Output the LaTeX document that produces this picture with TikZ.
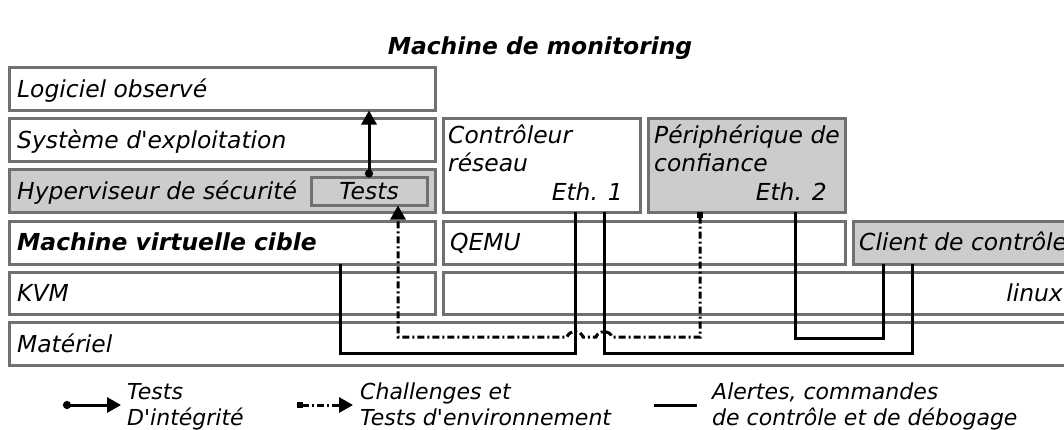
\documentclass[tikz,border=0pt]{standalone}
\usepackage{fontspec}
\setmainfont{DejaVu Sans}
\usetikzlibrary{arrows.meta}
\definecolor{boxline}{HTML}{707070}
\definecolor{boxfill}{HTML}{CCCCCC}
\tikzset{
  layer/.style={draw=boxline, line width=3pt, rectangle, inner sep=0pt, outer sep=0pt, anchor=north west},
  greybox/.style={fill=boxfill},
  txt/.style={font=\fontsize{23.4}{28}\selectfont\itshape, inner sep=0pt, anchor=base west},
  txtb/.style={txt, font=\fontsize{23.4}{28}\selectfont\bfseries\itshape},
  legtxt/.style={font=\fontsize{22}{26}\selectfont\itshape, inner sep=0pt, anchor=base west},
  conn/.style={line width=3pt, black},
  dashdot/.style={dash pattern=on 7pt off 3pt on 2pt off 3pt},
  dotstart/.style={{Circle[length=8pt,width=8pt]}-{Triangle[length=14pt,width=15pt]}},
  sqstart/.style={{Square[length=6pt,width=6pt]}-{Triangle[length=14pt,width=15pt]}},
}
\begin{document}
\begin{tikzpicture}[x=1pt,y=-1pt]
\useasboundingbox (0,0) rectangle (1064,429);
\clip (0,0) rectangle (1064,429);

% title
\node[txtb, anchor=base] (title) at (540,54) {Machine de monitoring};

% left column
\node[layer, minimum width=425.5pt, minimum height=43pt] (log) at (9.5,67.5) {};
\node[layer, minimum width=425.5pt, minimum height=43.5pt] (sys) at (9.5,118) {};
\node[layer, greybox, minimum width=425.5pt, minimum height=43pt] (hyp) at (9.5,169.5) {};
\node[layer, minimum width=425.5pt, minimum height=43pt] (mvc) at (9.5,221) {};
\node[layer, minimum width=425.5pt, minimum height=42.5pt] (kvm) at (9.5,272) {};
\node[layer, minimum width=1080pt, minimum height=42.5pt] (mat) at (9.5,322.5) {};
\node[layer, greybox, minimum width=116pt, minimum height=28pt] (tests) at (311,177.5) {};

% right part
\node[layer, minimum width=197pt, minimum height=94pt] (ctrl) at (443,118) {};
\node[layer, greybox, minimum width=197pt, minimum height=94pt] (peri) at (648,118) {};
\node[layer, minimum width=402pt, minimum height=43pt] (qemu) at (443,221) {};
\node[layer, greybox, minimum width=250pt, minimum height=43pt] (client) at (853,221) {};
\node[layer, minimum width=650pt, minimum height=42.5pt] (linux) at (443,272) {};

% texts
\node[txt] (logT) at (17,97) {Logiciel observé};
\node[txt] (sysT) at (17,148.5) {Système d\textquotesingle exploitation};
\node[txt] (hypT) at (17,199.5) {Hyperviseur de sécurité};
\node[txt, anchor=base] (testsT) at (369,199.5) {Tests};
\node[txtb] (mvcT) at (17,250.5) {Machine virtuelle cible};
\node[txt] (kvmT) at (17,301.5) {KVM};
\node[txt] (matT) at (17,352.5) {Matériel};
\node[txt] (ctrlT1) at (448,143) {Contrôleur};
\node[txt] (ctrlT2) at (448,171.5) {réseau};
\node[txt, anchor=base east] (ctrlT3) at (623,200) {Eth. 1};
\node[txt] (periT1) at (654,143) {Périphérique de};
\node[txt] (periT2) at (654,171.5) {confiance};
\node[txt, anchor=base east] (periT3) at (827,200) {Eth. 2};
\node[txt] (qemuT) at (450,250.5) {QEMU};
\node[txt] (clientT) at (859,250.5) {Client de contrôle};
\node[txt, anchor=base east] (linuxT) at (1063,301.5) {linux};

% connectors
\draw[conn, dotstart] (369,0 |- tests.north) -- (369,0 |- log.south);
\draw[conn] (340,0 |- mvc.south) -- (340,353) -- (575,353) -- (575,0 |- ctrl.south);
\draw[conn] (604,0 |- ctrl.south) -- (604,353) -- (912,353) -- (912,0 |- client.south);
\draw[conn] (795,0 |- peri.south) -- (795,338) -- (883,338) -- (883,0 |- client.south);
\draw[conn, dashdot, sqstart] (700,0 |- peri.south) -- (700,337) -- (612,337)
  .. controls (610,330) and (598,330) .. (596,337) -- (583,337)
  .. controls (581,330) and (569,330) .. (567,337) -- (398,337) -- (398,0 |- tests.south);

% legend
\coordinate (la1) at (63,405);
\coordinate (lb1) at (121,405);
\draw[conn, dotstart] (la1) -- (lb1);
\node[legtxt] (lt1a) at (127,399) {Tests};
\node[legtxt] (lt1b) at (127,425) {D\textquotesingle intégrité};
\coordinate (la2) at (297,405);
\coordinate (lb2) at (353,405);
\draw[conn, dashdot, sqstart] (la2) -- (lb2);
\node[legtxt] (lt2a) at (360,399) {Challenges et};
\node[legtxt] (lt2b) at (360,425) {Tests d\textquotesingle environnement};
\coordinate (la3) at (654,405);
\coordinate (lb3) at (697,405);
\draw[conn] (la3) -- (lb3);
\node[legtxt] (lt3a) at (712,399) {Alertes, commandes};
\node[legtxt] (lt3b) at (712,425) {de contrôle et de débogage};
\end{tikzpicture}
\end{document}
